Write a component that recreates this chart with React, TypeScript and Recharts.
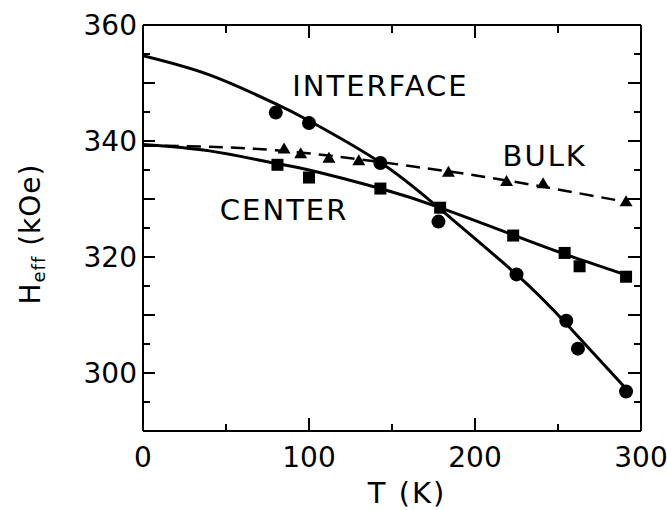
import React from 'react';
import { ComposedChart, Line, Scatter, XAxis, YAxis, ReferenceDot } from 'recharts';

// measured points (T in K, Heff in kOe)
const interfaceT = [80, 100, 143, 178, 225, 255, 262, 291];
const interfaceH = [344.9, 343.1, 336.2, 326.1, 317.0, 309.0, 304.2, 296.8];
const centerT = [81, 100, 143, 179, 223, 254, 263, 291];
const centerH = [335.9, 333.7, 331.8, 328.5, 323.7, 320.7, 318.4, 316.6];
const bulkT = [85, 95, 112, 130, 184, 219, 241, 291];
const bulkH = [338.7, 337.9, 337.1, 336.7, 334.7, 333.1, 332.7, 329.6];

// fitted curves
const interfaceFitT = [0, 40, 77, 100, 143, 178, 225, 255, 292];
const interfaceFitH = [354.7, 351.4, 346.8, 343.5, 336.3, 328.5, 317, 308.5, 297];
const centerFitT = [0, 40, 77, 100, 143, 178, 223, 255, 292];
const centerFitH = [339.4, 338.3, 336.3, 335, 331.8, 328.6, 323.8, 320.4, 316.8];
const bulkFitT = [0, 80, 163, 219, 291];
const bulkFitH = [339.2, 338.4, 335.6, 333.2, 329.5];

const xTicks = [0, 50, 100, 150, 200, 250, 300];
const yTicks = [290, 295, 300, 305, 310, 315, 320, 325, 330, 335, 340, 345, 350, 355, 360];

const zip = (t: number[], h: number[]) => t.map((T, i) => ({ T, H: h[i] }));

const FONT = '"DejaVu Sans", sans-serif';

const BottomTick = (props: any) => {
  const { x, y, payload } = props;
  const major = payload.value % 100 === 0;
  return (
    <g>
      <line x1={x} x2={x} y1={y} y2={y - (major ? 13 : 7)} stroke="#000" strokeWidth={2} />
      {major && (
        <text x={x} y={y + 36} textAnchor="middle" fontSize={28} fontFamily={FONT} fill="#000">
          {payload.value}
        </text>
      )}
    </g>
  );
};

const TopTick = (props: any) => {
  const { x, y, payload } = props;
  const major = payload.value % 100 === 0;
  return <line x1={x} x2={x} y1={y} y2={y + (major ? 13 : 8)} stroke="#000" strokeWidth={2} />;
};

const LeftTick = (props: any) => {
  const { x, y, payload } = props;
  const v = payload.value;
  const len = v % 10 === 0 ? 12 : 7;
  return (
    <g>
      <line x1={x} x2={x + len} y1={y} y2={y} stroke="#000" strokeWidth={2} />
      {v % 20 === 0 && (
        <text x={x - 6} y={y + 10} textAnchor="end" fontSize={28} fontFamily={FONT} fill="#000">
          {v}
        </text>
      )}
    </g>
  );
};

const RightTick = (props: any) => {
  const { x, y, payload } = props;
  const len = payload.value % 10 === 0 ? 13 : 7;
  return <line x1={x} x2={x - len} y1={y} y2={y} stroke="#000" strokeWidth={2} />;
};

const YLabel = (props: any) => {
  const vb = props.viewBox || { x: 0, y: 25, width: 143, height: 406 };
  const cx = 30;
  const cy = vb.y + vb.height / 2 + 6;
  return (
    <text
      x={cx}
      y={cy}
      transform={`rotate(-90 ${cx} ${cy})`}
      textAnchor="middle"
      dominantBaseline="central"
      fontSize={28}
      fontFamily={FONT}
      fill="#000"
      letterSpacing={1}
    >
      H
      <tspan fontSize={18} dy={8}>eff</tspan>
      <tspan dy={-8}> (kOe)</tspan>
    </text>
  );
};

const XLabel = (props: any) => {
  const vb = props.viewBox || { x: 143, y: 431, width: 498, height: 79 };
  return (
    <text
      x={vb.x + vb.width / 2 + 15}
      y={vb.y + 72}
      textAnchor="middle"
      fontSize={29}
      fontFamily={FONT}
      fill="#000"
      letterSpacing={2}
    >
      T (K)
    </text>
  );
};

const Circle = (props: any) => <circle cx={props.cx} cy={props.cy} r={7} fill="#000" />;
const Square = (props: any) => <rect x={props.cx - 6} y={props.cy - 6} width={12} height={12} fill="#000" />;
const Triangle = (props: any) => {
  const { cx, cy } = props;
  return <polygon points={`${cx},${cy - 6} ${cx - 6.5},${cy + 5} ${cx + 6.5},${cy + 5}`} fill="#000" />;
};

const seriesLabel = (value: string) => ({
  value,
  position: 'center' as const,
  fontSize: 29,
  fontFamily: FONT,
  fill: '#000',
  letterSpacing: 2,
});

export default function App() {
  return (
    <div style={{ position: 'absolute', left: 0, top: 0, background: '#fff' }}>
      <ComposedChart width={667} height={510} margin={{ top: 24, right: 25, bottom: 0, left: 0 }}>
        <XAxis
          dataKey="T"
          type="number"
          domain={[0, 300]}
          ticks={xTicks}
          interval={0}
          allowDataOverflow
          height={79}
          tickSize={0}
          tickMargin={0}
          axisLine={{ stroke: '#000', strokeWidth: 2 }}
          tick={(p: any) => <BottomTick {...p} />}
          label={(p: any) => <XLabel {...p} />}
        />
        <XAxis
          xAxisId="top"
          orientation="top"
          dataKey="T"
          type="number"
          domain={[0, 300]}
          ticks={xTicks}
          interval={0}
          allowDataOverflow
          height={1}
          tickSize={0}
          tickMargin={0}
          axisLine={{ stroke: '#000', strokeWidth: 2 }}
          tick={(p: any) => <TopTick {...p} />}
        />
        <YAxis
          dataKey="H"
          type="number"
          domain={[290, 360]}
          ticks={yTicks}
          interval={0}
          allowDataOverflow
          width={143}
          tickSize={0}
          tickMargin={0}
          axisLine={{ stroke: '#000', strokeWidth: 2 }}
          tick={(p: any) => <LeftTick {...p} />}
          label={(p: any) => <YLabel {...p} />}
        />
        <YAxis
          yAxisId="right"
          orientation="right"
          dataKey="H"
          type="number"
          domain={[290, 360]}
          ticks={yTicks}
          interval={0}
          allowDataOverflow
          width={1}
          tickSize={0}
          tickMargin={0}
          axisLine={{ stroke: '#000', strokeWidth: 2 }}
          tick={(p: any) => <RightTick {...p} />}
        />
        <Line
          data={zip(interfaceFitT, interfaceFitH)}
          dataKey="H"
          type="natural"
          stroke="#000"
          strokeWidth={3}
          dot={false}
          activeDot={false}
          isAnimationActive={false}
        />
        <Line
          data={zip(centerFitT, centerFitH)}
          dataKey="H"
          type="natural"
          stroke="#000"
          strokeWidth={3}
          dot={false}
          activeDot={false}
          isAnimationActive={false}
        />
        <Line
          data={zip(bulkFitT, bulkFitH)}
          xAxisId="top"
          yAxisId="right"
          dataKey="H"
          type="natural"
          stroke="#000"
          strokeWidth={2.5}
          strokeDasharray="14 8"
          dot={false}
          activeDot={false}
          isAnimationActive={false}
        />
        <Scatter data={zip(interfaceT, interfaceH)} dataKey="H" shape={Circle} isAnimationActive={false} />
        <Scatter data={zip(centerT, centerH)} dataKey="H" shape={Square} isAnimationActive={false} />
        <Scatter
          data={zip(bulkT, bulkH)}
          xAxisId="top"
          yAxisId="right"
          dataKey="H"
          shape={Triangle}
          isAnimationActive={false}
        />
        <ReferenceDot x={143} y={349.5} r={0} fill="none" stroke="none" label={seriesLabel('INTERFACE')} />
        <ReferenceDot x={242} y={337.4} r={0} fill="none" stroke="none" label={seriesLabel('BULK')} />
        <ReferenceDot x={85} y={328.1} r={0} fill="none" stroke="none" label={seriesLabel('CENTER')} />
      </ComposedChart>
    </div>
  );
}
